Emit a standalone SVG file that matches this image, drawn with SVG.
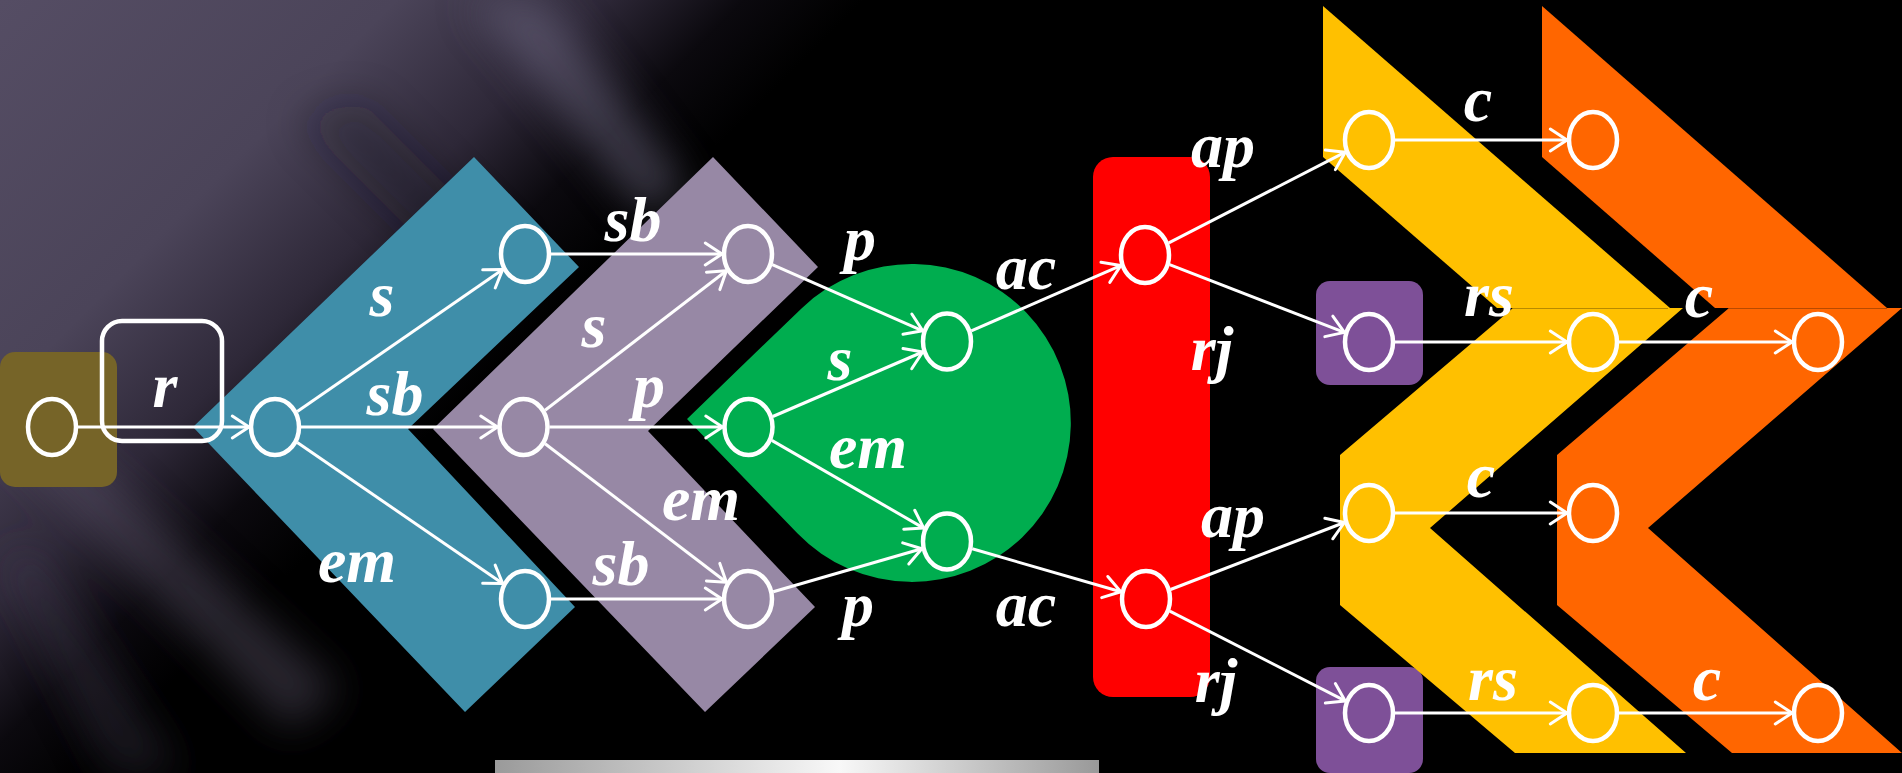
<svg xmlns="http://www.w3.org/2000/svg" width="1902" height="773" viewBox="0 0 1902 773">
  <defs>
    <linearGradient id="haze" x1="0" y1="0" x2="600" y2="600" gradientUnits="userSpaceOnUse">
      <stop offset="0" stop-color="#554d64"/>
      <stop offset="0.33" stop-color="#4b4459"/>
      <stop offset="0.5" stop-color="#2e2838"/>
      <stop offset="0.62" stop-color="#0b090e"/>
      <stop offset="0.72" stop-color="#000000"/>
    </linearGradient>
    <linearGradient id="bar" x1="0" y1="0" x2="1" y2="0">
      <stop offset="0" stop-color="#9a9a9a"/>
      <stop offset="0.57" stop-color="#f8f8f8"/>
      <stop offset="1" stop-color="#999999"/>
    </linearGradient>
    <filter id="blur" x="-50%" y="-50%" width="200%" height="200%">
      <feGaussianBlur stdDeviation="20"/>
    </filter>
    <marker id="ah" markerUnits="userSpaceOnUse" markerWidth="24" markerHeight="24" refX="18" refY="12" orient="auto" viewBox="0 0 24 24" overflow="visible">
      <path d="M1.3,1 L18,12 L1.3,23" fill="none" stroke="#ffffff" stroke-width="3" stroke-linecap="round" stroke-linejoin="round"/>
    </marker>
    <style>
      .edge { stroke: #ffffff; stroke-width: 3; fill: none; marker-end: url(#ah); }
      .node { fill: none; stroke: #ffffff; stroke-width: 4.5; }
      .lbl { font-family: "Liberation Serif", "DejaVu Serif", serif; font-style: italic; font-weight: bold; font-size: 64px; fill: #ffffff; text-anchor: middle; }
    </style>
  </defs>

  <!-- background -->
  <rect x="0" y="0" width="1902" height="773" fill="#000000"/>
  <rect x="0" y="0" width="900" height="773" fill="url(#haze)"/>
  <g filter="url(#blur)">
    <polygon points="470,0 545,0 690,190 645,215" fill="#7a7390" opacity="0.45"/>
    <polygon points="0,440 50,425 340,690 290,730" fill="#5a5268" opacity="0.45"/>
    <polygon points="0,560 30,545 180,773 110,773" fill="#4a4258" opacity="0.35"/>
    <polygon points="300,120 360,100 520,260 470,290" fill="#1e1926" opacity="0.35"/>
  </g>

  <!-- regions -->
  <g id="regions">
    <rect id="olive" x="0" y="352" width="117" height="135" rx="15" fill="#766428"/>
    <polygon id="teal" points="193,427 474,157 579,267 408,429 575,607 465,712" fill="#3f8ea9"/>
    <polygon id="lilac" points="433,429 713,157 818,267 648,431 815,607 705,712" fill="#9788a5"/>
    <path id="green" d="M687,419 L801.5,308.4 A159,159 0 1 1 797.6,533.5 Z" fill="#00ad4f"/>
    <rect id="red" x="1093" y="157" width="117" height="540" rx="20" fill="#ff0000"/>
    <rect id="purpleTop" x="1316" y="281" width="107" height="104" rx="14" fill="#7e5098"/>
    <rect id="purpleBottom" x="1316" y="667" width="107" height="106" rx="14" fill="#7e5098"/>
    <polygon id="yellowUpper" points="1323,6 1670,308 1497,308 1323,157" fill="#ffc000"/>
    <polygon id="yellowLower" points="1513,308 1683,308 1430,528 1686,753 1515,753 1340,605 1340,455" fill="#ffc000"/>
    <polygon id="orangeUpper" points="1542,6 1887,308 1715,308 1542,157" fill="#ff6600"/>
    <polygon id="orangeLower" points="1729,308 1902,308 1648,528 1902,753 1732,753 1557,605 1557,455" fill="#ff6600"/>
    <line x1="1513" y1="308.5" x2="1668" y2="308.5" stroke="#b88a00" stroke-width="1"/>
    <line x1="1729" y1="308.5" x2="1887" y2="308.5" stroke="#b84a00" stroke-width="1"/>
    <rect id="bar" x="495" y="760" width="604" height="13" fill="url(#bar)"/>
  </g>

  <!-- r box -->
  <g id="rbox">
    <rect x="102" y="321" width="120" height="120" rx="20" fill="none" stroke="#ffffff" stroke-width="4.5"/>
  </g>

  <!-- connectors -->
  <g id="connectors">
    <line class="edge" x1="78" y1="427" x2="249" y2="427"/>
    <line class="edge" x1="297.3" y1="411.6" x2="502.7" y2="269.4"/>
    <line class="edge" x1="301" y1="427" x2="497.5" y2="427"/>
    <line class="edge" x1="297.3" y1="442.4" x2="502.7" y2="583.6"/>
    <line class="edge" x1="551" y1="254" x2="722" y2="254"/>
    <line class="edge" x1="545.1" y1="410.3" x2="726.4" y2="270.7"/>
    <line class="edge" x1="549.5" y1="427" x2="722.5" y2="427"/>
    <line class="edge" x1="545.1" y1="443.7" x2="726.4" y2="582.3"/>
    <line class="edge" x1="551" y1="599" x2="722" y2="599"/>
    <line class="edge" x1="772.3" y1="264.7" x2="922.7" y2="330.8"/>
    <line class="edge" x1="772.8" y1="416.5" x2="922.7" y2="352"/>
    <line class="edge" x1="771.8" y1="440.4" x2="923.7" y2="528.1"/>
    <line class="edge" x1="773.2" y1="591.7" x2="921.8" y2="548.8"/>
    <line class="edge" x1="971.3" y1="330.9" x2="1120.7" y2="265.6"/>
    <line class="edge" x1="972.2" y1="548.8" x2="1120.8" y2="591.7"/>
    <line class="edge" x1="1168.8" y1="242.8" x2="1345.2" y2="152.2"/>
    <line class="edge" x1="1169.6" y1="264.6" x2="1344.4" y2="332.4"/>
    <line class="edge" x1="1170.6" y1="589.5" x2="1344.4" y2="522.5"/>
    <line class="edge" x1="1169.8" y1="611.1" x2="1345.2" y2="700.9"/>
    <line class="edge" x1="1395" y1="140" x2="1567" y2="140"/>
    <line class="edge" x1="1395" y1="342" x2="1567" y2="342"/>
    <line class="edge" x1="1619" y1="342" x2="1792" y2="342"/>
    <line class="edge" x1="1395" y1="513" x2="1567" y2="513"/>
    <line class="edge" x1="1395" y1="713" x2="1567" y2="713"/>
    <line class="edge" x1="1619" y1="713" x2="1792" y2="713"/>
  </g>

  <!-- nodes -->
  <g id="n1"><ellipse class="node" cx="52" cy="427" rx="24" ry="28"/></g>
  <g id="n2"><ellipse class="node" cx="275" cy="427" rx="24" ry="28"/></g>
  <g id="n3"><ellipse class="node" cx="525" cy="254" rx="24" ry="28"/></g>
  <g id="n4"><ellipse class="node" cx="523.5" cy="427" rx="24" ry="28"/></g>
  <g id="n5"><ellipse class="node" cx="525" cy="599" rx="24" ry="28"/></g>
  <g id="n6"><ellipse class="node" cx="748" cy="254" rx="24" ry="28"/></g>
  <g id="n7"><ellipse class="node" cx="748.5" cy="427" rx="24" ry="28"/></g>
  <g id="n8"><ellipse class="node" cx="748" cy="599" rx="24" ry="28"/></g>
  <g id="n9"><ellipse class="node" cx="947" cy="341.5" rx="24" ry="28"/></g>
  <g id="n10"><ellipse class="node" cx="947" cy="541.5" rx="24" ry="28"/></g>
  <g id="n11"><ellipse class="node" cx="1145" cy="255" rx="24" ry="28"/></g>
  <g id="n12"><ellipse class="node" cx="1146" cy="599" rx="24" ry="28"/></g>
  <g id="n13"><ellipse class="node" cx="1369" cy="140" rx="24" ry="28"/></g>
  <g id="n14"><ellipse class="node" cx="1369" cy="342" rx="24" ry="28"/></g>
  <g id="n15"><ellipse class="node" cx="1369" cy="513" rx="24" ry="28"/></g>
  <g id="n16"><ellipse class="node" cx="1369" cy="713" rx="24" ry="28"/></g>
  <g id="n17"><ellipse class="node" cx="1593" cy="140" rx="24" ry="28"/></g>
  <g id="n18"><ellipse class="node" cx="1593" cy="342" rx="24" ry="28"/></g>
  <g id="n19"><ellipse class="node" cx="1593" cy="513" rx="24" ry="28"/></g>
  <g id="n20"><ellipse class="node" cx="1593" cy="713" rx="24" ry="28"/></g>
  <g id="n21"><ellipse class="node" cx="1818" cy="342" rx="24" ry="28"/></g>
  <g id="n22"><ellipse class="node" cx="1818" cy="713" rx="24" ry="28"/></g>

  <!-- labels -->
  <g id="labels">
    <text class="lbl" x="165" y="407">r</text>
    <text class="lbl" x="382" y="316">s</text>
    <text class="lbl" x="395" y="415">sb</text>
    <text class="lbl" x="357" y="582">em</text>
    <text class="lbl" x="633" y="241">sb</text>
    <text class="lbl" x="594" y="347">s</text>
    <text class="lbl" x="649" y="407">p</text>
    <text class="lbl" x="701" y="520">em</text>
    <text class="lbl" x="621" y="585">sb</text>
    <text class="lbl" x="860" y="260">p</text>
    <text class="lbl" x="1026" y="289">ac</text>
    <text class="lbl" x="840" y="380">s</text>
    <text class="lbl" x="868" y="468">em</text>
    <text class="lbl" x="858" y="626">p</text>
    <text class="lbl" x="1026" y="626">ac</text>
    <text class="lbl" x="1223" y="167">ap</text>
    <text class="lbl" x="1212" y="370">rj</text>
    <text class="lbl" x="1233" y="537">ap</text>
    <text class="lbl" x="1216" y="702">rj</text>
    <text class="lbl" x="1478" y="121">c</text>
    <text class="lbl" x="1489" y="316">rs</text>
    <text class="lbl" x="1699" y="317">c</text>
    <text class="lbl" x="1481" y="497">c</text>
    <text class="lbl" x="1493" y="700">rs</text>
    <text class="lbl" x="1707" y="700">c</text>
  </g>
</svg>
